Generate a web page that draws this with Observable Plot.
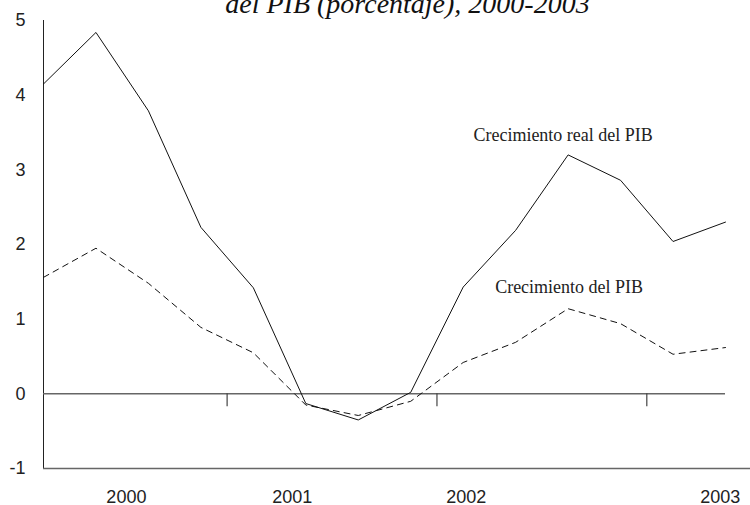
<!DOCTYPE html>
<html><head><meta charset="utf-8">
<script src="https://cdn.jsdelivr.net/npm/d3@7"></script>
<script src="https://cdn.jsdelivr.net/npm/@observablehq/plot@0.6"></script>
<style>
body{margin:0;background:#fff;}
#wrap{position:relative;width:750px;height:505px;overflow:hidden;}
#title{position:absolute;left:65px;right:0;top:-10px;text-align:center;font-family:"Liberation Serif","Times New Roman",serif;font-style:italic;font-size:28px;line-height:28px;color:#111;z-index:1;white-space:nowrap;}
</style></head>
<body><div id="wrap"><div id="title">del PIB (porcentaje), 2000-2003</div><div id="chart"></div></div>
<script>
// quarterly observations, 2000 T1 .. 2003 T2 (mid-quarter positions in years)
const quarters = [2000.125, 2000.375, 2000.625, 2000.875, 2001.125, 2001.375, 2001.625, 2001.875, 2002.125, 2002.375, 2002.625, 2002.875, 2003.125, 2003.375];
const realGrowth = [4.15, 4.84, 3.79, 2.23, 1.42, -0.13, -0.35, 0.02, 1.43, 2.19, 3.20, 2.86, 2.04, 2.30];
const nominalGrowth = [1.56, 1.95, 1.48, 0.89, 0.55, -0.15, -0.29, -0.10, 0.42, 0.69, 1.14, 0.94, 0.53, 0.62];
const seriesLabels = ["Crecimiento real del PIB", "Crecimiento del PIB"];
const yTicks = [-1, 0, 1, 2, 3, 4, 5];
const yearBoundaries = [2001, 2002, 2003];
const yearLabels = ["2000", "2001", "2002", "2003"];
const yearLabelPos = [2000.52, 2001.31, 2002.14, 2003.35];

const idx = quarters.map((_, i) => i);
const labelAnchor = 10;

const chart = Plot.plot({
  width: 750,
  height: 505,
  marginLeft: 43,
  marginRight: 25,
  marginTop: 20,
  marginBottom: 37,
  style: {fontFamily: "'Liberation Sans', Arial, sans-serif", fontSize: "18px", color: "#222", background: "#fff"},
  x: {domain: [quarters[0], quarters[quarters.length - 1]], ticks: yearLabelPos, tickFormat: d => yearLabels[yearLabelPos.indexOf(d)], tickSize: 0, tickPadding: 22, label: null},
  y: {domain: [yTicks[0], yTicks[yTicks.length - 1]], ticks: yTicks, tickFormat: d => String(d), tickSize: 0, tickPadding: 18, label: null},
  marks: [
    Plot.ruleX([quarters[0]], {stroke: "#222", strokeWidth: 1}),
    Plot.ruleY([yTicks[0]], {stroke: "#666", strokeWidth: 1.5, insetRight: -25}),
    Plot.ruleY([0], {stroke: "#666", strokeWidth: 1.5}),
    Plot.ruleX(yearBoundaries, {y1: 0, y2: 0, insetBottom: -13, stroke: "#444", strokeWidth: 1.2}),
    Plot.line(idx, {x: i => quarters[i], y: i => nominalGrowth[i], stroke: "#111", strokeWidth: 1, strokeDasharray: "6,5"}),
    Plot.line(idx, {x: i => quarters[i], y: i => realGrowth[i], stroke: "#111", strokeWidth: 1}),
    Plot.text([labelAnchor], {x: i => quarters[i], y: i => realGrowth[i], text: () => seriesLabels[0], dx: -5, dy: -14, lineAnchor: "bottom", textAnchor: "middle", fontFamily: "'Liberation Serif', 'Times New Roman', serif", fontSize: 18, fill: "#222"}),
    Plot.text([labelAnchor], {x: i => quarters[i], y: i => nominalGrowth[i], text: () => seriesLabels[1], dx: 1, dy: -16, lineAnchor: "bottom", textAnchor: "middle", fontFamily: "'Liberation Serif', 'Times New Roman', serif", fontSize: 18, fill: "#222"})
  ]
});
document.getElementById("chart").appendChild(chart);
</script>
</body></html>
